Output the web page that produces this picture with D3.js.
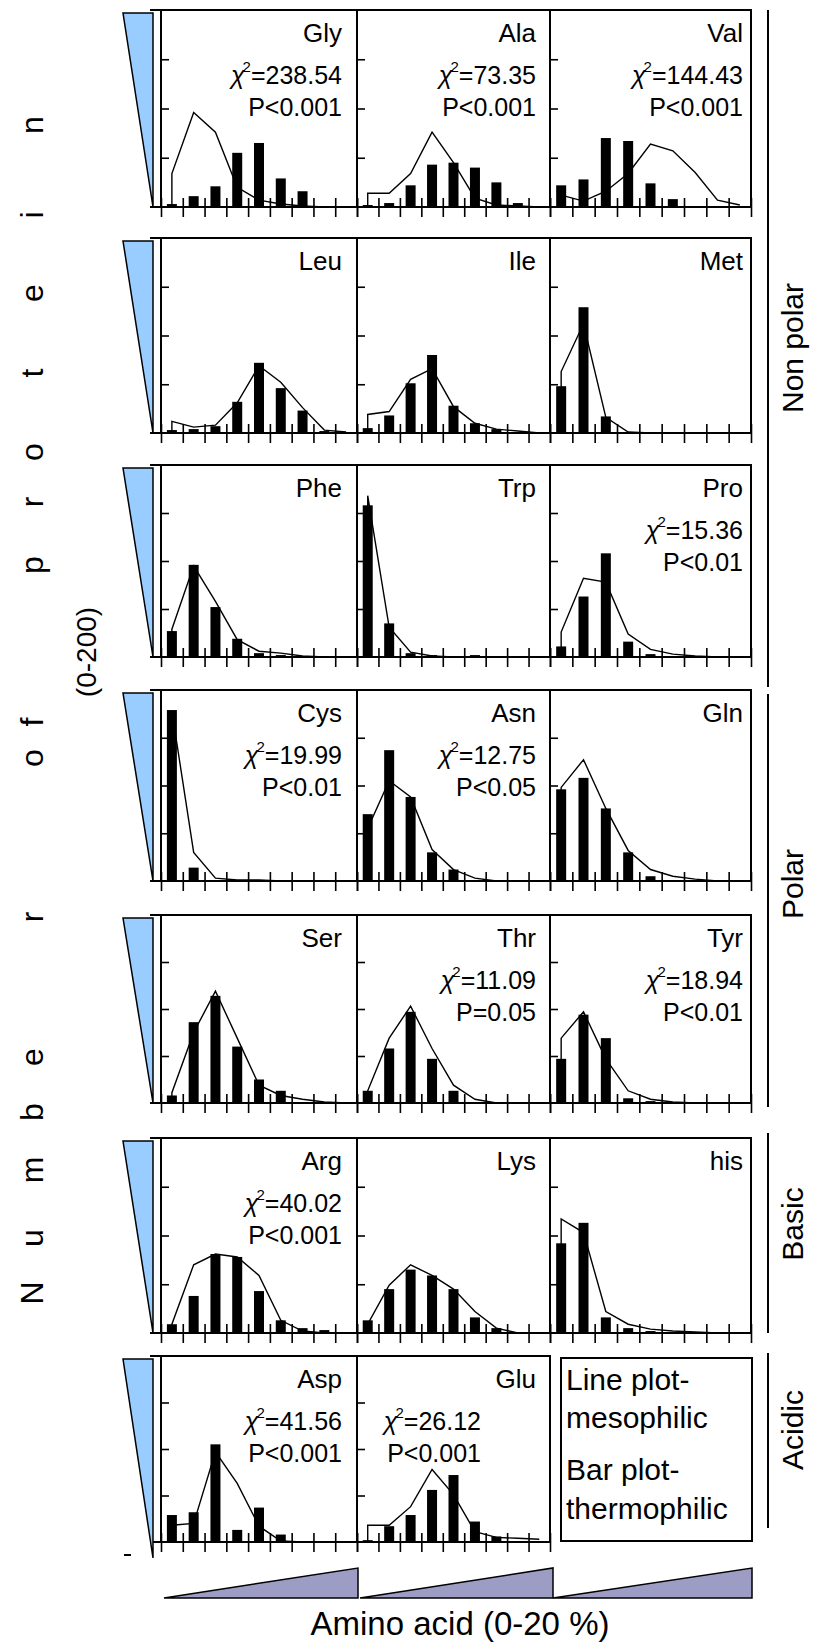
<!DOCTYPE html>
<html>
<head>
<meta charset="utf-8">
<script src="https://cdn.jsdelivr.net/npm/d3@7"></script>
<style>
  body { margin: 0; background: #fff; }
  svg { display: block; }
  text { font-family: "Liberation Sans", Arial, sans-serif; fill: #000; }
</style>
</head>
<body>
<svg id="chart" width="815" height="1644"></svg>
<script>
// amino acids in reading order (3 per row), last cell of row 7 is the legend
const aminoAcids = ["Gly","Ala","Val","Leu","Ile","Met","Phe","Trp","Pro",
                    "Cys","Asn","Gln","Ser","Thr","Tyr","Arg","Lys","his","Asp","Glu"];

// bar plot - thermophilic (number of proteins per 2% bin, 0-200)
const thermophilic = [
  [3,11,21,55,65,29,16,0,0],
  [2,4,22,43,45,40,25,4,1],
  [22,28,70,67,24,8,0,0,0],
  [3,4,7,32,72,46,23,2,0],
  [5,18,51,80,28,10,4,0,0],
  [48,129,17,0,0,0,0,0,0],
  [27,96,52,19,4,2,0,0,0],
  [158,35,4,2,0,2,0,0,0],
  [11,63,108,16,3,0,0,0,0],
  [179,14,0,0,0,0,0,0,0],
  [70,137,88,30,12,0,0,0,0],
  [96,108,76,30,5,0,0,0,0],
  [8,86,114,60,25,13,0,0,0],
  [13,58,97,47,13,0,0,0,0],
  [47,94,69,5,2,0,0,0,0],
  [9,38,81,78,43,13,5,3,0],
  [13,45,65,59,45,16,5,0,0],
  [92,113,16,5,2,1,0,0,0],
  [29,32,105,13,37,8,0,0,0],
  [2,17,29,56,72,22,6,0,0]
];

// line plot - mesophilic
const mesophilic = [
  [34,96,76,20,7,3,1,0,0],
  [14,14,34,76,45,9,2,1,0],
  [12,6,16,34,64,57,35,7,2],
  [12,6,8,31,69,52,26,3,1],
  [19,22,55,66,27,10,4,2,0],
  [63,112,16,1,0,0,0,0,0],
  [29,95,58,18,6,4,1,0,0],
  [168,31,5,1,0,0,0,0,0],
  [26,82,78,24,8,3,1,0,0],
  [178,30,3,1,1,0,0,0,0],
  [55,105,88,33,12,3,0,0,0],
  [98,127,76,32,12,5,2,0,0],
  [11,75,119,69,19,8,4,1,0],
  [13,69,103,58,19,4,0,0,0],
  [69,97,47,13,4,1,0,0,0],
  [9,70,81,78,59,13,2,0,0],
  [9,49,70,59,45,22,5,0,0],
  [117,103,22,9,4,2,1,0,0],
  [18,20,97,63,17,1,0,0,0],
  [18,18,38,78,51,11,5,4,3]
];

const chiSquare = ["238.54","73.35","144.43",null,null,null,null,null,"15.36",
                   "19.99","12.75",null,null,"11.09","18.94","40.02",null,null,"41.56","26.12"];
const pValues = ["P<0.001","P<0.001","P<0.001",null,null,null,null,null,"P<0.01",
                 "P<0.01","P<0.05",null,null,"P=0.05","P<0.01","P<0.001",null,null,"P<0.001","P<0.001"];

const groupNames = ["Non polar","Polar","Basic","Acidic"];
const legendLines = ["Line plot-","mesophilic","Bar plot-","thermophilic"];
const yTickValues = [50,100,150];
const binEdges = d3.range(0, 10);
const yLabel = "Number of protein";
const xLabel = "Amino acid (0-20 %)";

// layout
const rowTops = [10,238,465,690,915,1138,1356];
const rowBottoms = [207,433,657,881,1103,1333,1542];
const colLefts = [161,357,550];
const colRights = [357,550,751];
const labelPad = [15,14,8];
const statShift = {19: 55};
const letterY = [1293,1238,1170,1112,1057,917,null,758,722,null,565,502,452,373,293,215,125];
const groupSpans = [[10,687,348],[694,1107,884],[1133,1333,1224],[1353,1528,1430]];

const svg = d3.select("#chart");

function drawPanel(i) {
    const r = Math.floor(i / 3), c = i % 3;
    const top = rowTops[r], bottom = rowBottoms[r];
    const x0 = colLefts[c], x1 = colRights[c];
    const g = svg.append("g");

    const x = d3.scaleLinear().domain([0, 9]).range([x0, x1]);
    const y = d3.scaleLinear().domain([0, 200]).range([bottom, top]);
    const bw = 10;

    // bars (thermophilic)
    g.selectAll("rect.bar")
        .data(thermophilic[i])
        .enter()
        .append("rect")
        .attr("class", "bar")
        .attr("x", (d, k) => x(k + 0.5) - bw / 2)
        .attr("y", d => y(d))
        .attr("width", bw)
        .attr("height", d => y(0) - y(d))
        .attr("fill", "#000");

    // line (mesophilic), starts from the axis
    const pts = [[0.5, 0]].concat(mesophilic[i].map((d, k) => [k + 0.5, d]));
    const line = d3.line().x(d => x(d[0])).y(d => y(d[1]));
    g.append("path")
        .attr("d", line(pts))
        .attr("fill", "none")
        .attr("stroke", "#000")
        .attr("stroke-width", 1.4);

    // frame (first column runs over the triangle)
    const fx = c === 0 ? x0 - 11 : x0;
    g.append("path")
        .attr("d", `M${x0},${bottom}V${top}M${fx},${top}H${x1}V${bottom}`)
        .attr("fill", "none")
        .attr("stroke", "#000")
        .attr("stroke-width", 2);

    // x axis
    const xa = g.append("g")
        .attr("transform", `translate(0,${bottom})`)
        .call(d3.axisBottom(x).tickValues(binEdges).tickSize(10).tickFormat(""));
    xa.select(".domain").attr("stroke-width", 2).attr("d", `M${fx},0H${x1}`);
    xa.selectAll(".tick line").attr("y1", -9).attr("stroke-width", 1.6);

    // y axis ticks
    const ya = g.append("g")
        .attr("transform", `translate(${x0},0)`)
        .call(d3.axisLeft(y).tickValues(yTickValues).tickSize(6).tickFormat(""));
    ya.select(".domain").remove();
    ya.selectAll(".tick line").attr("x2", 8).attr("stroke-width", 1.6);

    // labels
    const lx = x1 - labelPad[c];
    g.append("text")
        .attr("x", lx).attr("y", top + 32)
        .attr("text-anchor", "end")
        .attr("font-size", 26)
        .text(aminoAcids[i]);

    if (chiSquare[i]) {
        const sx = lx - (statShift[i] || 0);
        const t = g.append("text")
            .attr("x", sx).attr("y", top + 74)
            .attr("text-anchor", "end")
            .attr("font-size", 25);
        t.append("tspan").attr("font-style", "italic").text("χ");
        t.append("tspan").attr("font-size", 15).attr("dy", -12).attr("dx", -2).text("2");
        t.append("tspan").attr("dy", 12).text("=" + chiSquare[i]);
        g.append("text")
            .attr("x", sx).attr("y", top + 106)
            .attr("text-anchor", "end")
            .attr("font-size", 25)
            .text(pValues[i]);
    }
}

d3.range(aminoAcids.length).forEach(drawPanel);

// legend panel
const lg = svg.append("g");
lg.append("rect")
    .attr("x", 561).attr("y", 1358)
    .attr("width", 191).attr("height", 183)
    .attr("fill", "none").attr("stroke", "#000").attr("stroke-width", 2);
lg.selectAll("text")
    .data(legendLines)
    .enter()
    .append("text")
    .attr("x", 566)
    .attr("y", (d, k) => [1390, 1428, 1480, 1519][k])
    .attr("font-size", 30)
    .text(d => d);

// blue triangles on the left of each row
rowTops.forEach((t, r) => {
    svg.append("path")
        .attr("d", `M123,${t + 3}H153V${rowBottoms[r] + (r === 6 ? 16 : 0)}Z`)
        .attr("fill", "#99ccff")
        .attr("stroke", "#000")
        .attr("stroke-width", 1.5);
});
svg.append("line")
    .attr("x1", 124).attr("x2", 131).attr("y1", 1555).attr("y2", 1555)
    .attr("stroke", "#000").attr("stroke-width", 2);

// purple triangles under each column
colLefts.forEach((x0, c) => {
    const x1 = colRights[c] + (c === 1 ? 3 : 1);
    svg.append("path")
        .attr("d", `M${x0 + 3},1598H${x1}V1568Z`)
        .attr("fill", "#9c9cc4")
        .attr("stroke", "#000")
        .attr("stroke-width", 1.5);
});

// group brackets on the right
groupSpans.forEach((s, k) => {
    svg.append("line")
        .attr("x1", 768).attr("x2", 768)
        .attr("y1", s[0]).attr("y2", s[1])
        .attr("stroke", "#000").attr("stroke-width", 2);
    svg.append("text")
        .attr("transform", `translate(803,${s[2]}) rotate(-90)`)
        .attr("text-anchor", "middle")
        .attr("font-size", 30)
        .text(groupNames[k]);
});

// y label, letters spread along the left edge
yLabel.split("").forEach((ch, k) => {
    if (ch === " ") return;
    svg.append("text")
        .attr("transform", `translate(43,${letterY[k]}) rotate(-90)`)
        .attr("text-anchor", "middle")
        .attr("font-size", 32)
        .text(ch);
});
svg.append("text")
    .attr("transform", "translate(96,652) rotate(-90)")
    .attr("text-anchor", "middle")
    .attr("font-size", 28)
    .text("(0-200)");

// x label
svg.append("text")
    .attr("x", 460).attr("y", 1635)
    .attr("text-anchor", "middle")
    .attr("font-size", 33)
    .text(xLabel);
</script>
</body>
</html>
